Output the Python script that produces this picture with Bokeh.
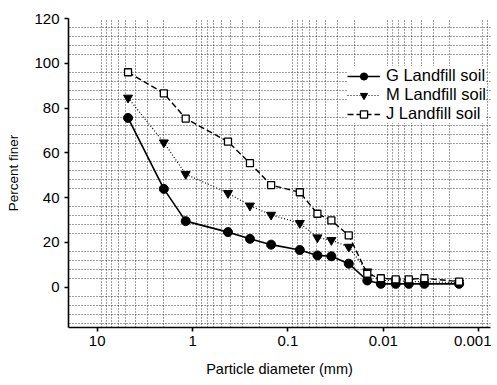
from bokeh.plotting import figure
from bokeh.models import Range1d, FixedTicker, CustomJSTickFormatter, Legend, LegendItem
from bokeh.embed import file_html
from bokeh.resources import INLINE

# Particle diameter (mm)
diameter = [4.75, 2.0, 1.18, 0.425, 0.25, 0.15, 0.075, 0.049, 0.035, 0.023,
            0.0147, 0.0106, 0.0074, 0.0054, 0.0037, 0.0016]
# Percent finer for each soil
g_soil = [75.6, 43.9, 29.5, 24.6, 21.6, 19.0, 16.6, 14.2, 13.8, 10.5,
          3.0, 1.5, 1.5, 1.5, 1.5, 1.5]
m_soil = [84.6, 64.6, 50.5, 42.0, 36.4, 32.3, 28.6, 22.2, 21.0, 18.0,
          7.0, 3.0, 3.0, 2.5, 2.5, 2.0]
j_soil = [96.0, 86.6, 75.3, 65.0, 55.4, 45.6, 42.4, 32.8, 29.8, 23.1,
          6.0, 4.0, 3.5, 3.5, 4.0, 2.5]

x_ticks = [10, 1, 0.1, 0.01, 0.001]
y_ticks = [0, 20, 40, 60, 80, 100, 120]

FONT = "Liberation Sans"

p = figure(frame_width=422, frame_height=309, output_backend="svg", toolbar_location=None,
           x_axis_type="log",
           x_range=Range1d(20, 0.00075), y_range=Range1d(-18, 120),
           min_border_left=68, min_border_right=1, min_border_top=18,
           min_border_bottom=40)
p.outline_line_color = None
p.background_fill_color = "white"

# grids (graph-paper style dotted lines)
xg = []
for k in range(-4, 2):
    for m in range(2, 10):
        v = m * 10.0 ** k
        if 0.00075 <= v <= 20:
            xg.append(v)
yg = [v for v in range(-16, 120, 4) if v % 20 != 0]
p.xgrid.ticker = FixedTicker(ticks=xg)
p.ygrid.ticker = FixedTicker(ticks=yg)
for g in (p.xgrid, p.ygrid):
    g.grid_line_color = "black"
    g.grid_line_dash = "1 2"
    g.grid_line_alpha = 0.75
    g.grid_line_width = 1

# axes
p.xaxis.ticker = FixedTicker(ticks=x_ticks)
p.xaxis.formatter = CustomJSTickFormatter(code="return tick.toString();")
p.yaxis.ticker = FixedTicker(ticks=y_ticks)
for ax in (p.xaxis, p.yaxis):
    ax.axis_line_width = 1.6
    ax.axis_line_color = "black"
    ax.major_tick_line_width = 1.6
    ax.major_tick_line_color = "black"
    ax.major_tick_out = 4
    ax.major_tick_in = 0
    ax.minor_tick_out = 0
    ax.minor_tick_in = 0
    ax.major_label_text_font = FONT
    ax.major_label_text_font_size = "15px"
    ax.major_label_text_color = "black"
    ax.axis_label_text_font = FONT
    ax.axis_label_text_font_style = "normal"
    ax.axis_label_text_color = "black"
p.xaxis.axis_label = "Particle diameter (mm)"
p.xaxis.axis_label_text_font_size = "14.5px"
p.xaxis.major_label_standoff = 4
p.xaxis.axis_label_standoff = 12
p.yaxis.axis_label = "Percent finer"
p.yaxis.axis_label_text_font_size = "13.5px"
p.yaxis.major_label_standoff = 5
p.yaxis.axis_label_standoff = 10

# series
gl = p.line(diameter, g_soil, line_color="black", line_width=1.6)
gs = p.scatter(diameter, g_soil, marker="circle", size=9,
               fill_color="black", line_color="black")
ml = p.line(diameter, m_soil, line_color="black", line_width=1.2, line_dash="1 2")
ms = p.scatter(diameter, m_soil, marker="inverted_triangle", size=9,
               fill_color="black", line_color="black")
jl = p.line(diameter, j_soil, line_color="black", line_width=1.4, line_dash="6 3")
js = p.scatter(diameter, j_soil, marker="square", size=7,
               fill_color="white", line_color="black", line_width=1.3)

legend = Legend(items=[
    LegendItem(label="G Landfill soil", renderers=[gl, gs]),
    LegendItem(label="M Landfill soil", renderers=[ml, ms]),
    LegendItem(label="J Landfill soil", renderers=[jl, js]),
], location=(279, 204))
legend.label_text_font = FONT
legend.label_text_font_size = "16.5px"
legend.label_text_color = "black"
legend.glyph_width = 33
legend.glyph_height = 18
legend.label_height = 18
legend.label_standoff = 6
legend.spacing = 0
legend.padding = 5
legend.margin = 0
legend.border_line_color = None
legend.background_fill_color = "white"
legend.background_fill_alpha = 1
p.add_layout(legend)

open("out.html", "w").write(file_html(p, INLINE))
